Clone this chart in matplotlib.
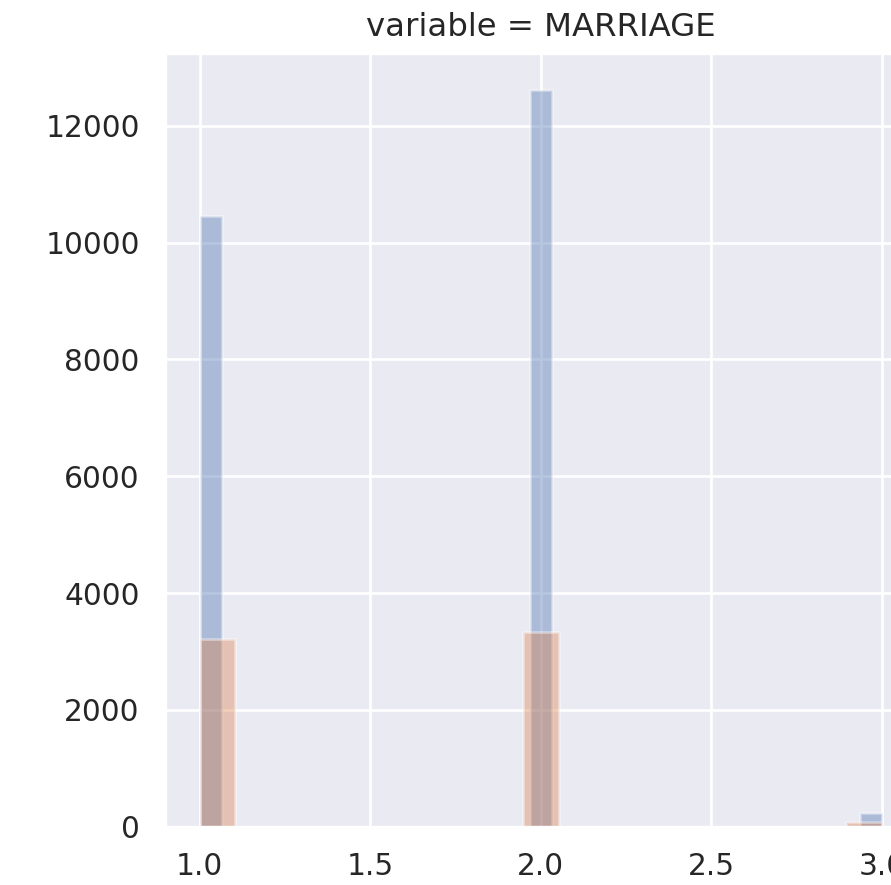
import matplotlib
matplotlib.use("Agg")
import matplotlib.pyplot as plt
from matplotlib.ticker import MultipleLocator
import seaborn as sns

# Counts of clients per MARRIAGE code, split by default status
marriage_codes = [1, 2, 3]
count_no_default = [10453, 12623, 239]
count_default = [3206, 3341, 84]

sns.set_theme(context="notebook", style="darkgrid", palette="deep")
plt.rcParams["font.family"] = ["DejaVu Sans"]

DPI = 194
fig = plt.figure(figsize=(892 / DPI, 885 / DPI), dpi=DPI)
# panel of a wider facet grid; the right edge runs past the canvas
ax = fig.add_axes([0.1855, 0.0659, 0.8415, 0.8746])

ax.hist(marriage_codes, bins=31, range=(1, 3), weights=count_no_default,
        alpha=0.4, color="C0")
ax.hist(marriage_codes, bins=19, range=(1, 3), weights=count_default,
        alpha=0.4, color="C1")

ax.xaxis.set_major_locator(MultipleLocator(0.5))
ax.set_title("variable = MARRIAGE")

fig.savefig("out.png", dpi=DPI)
